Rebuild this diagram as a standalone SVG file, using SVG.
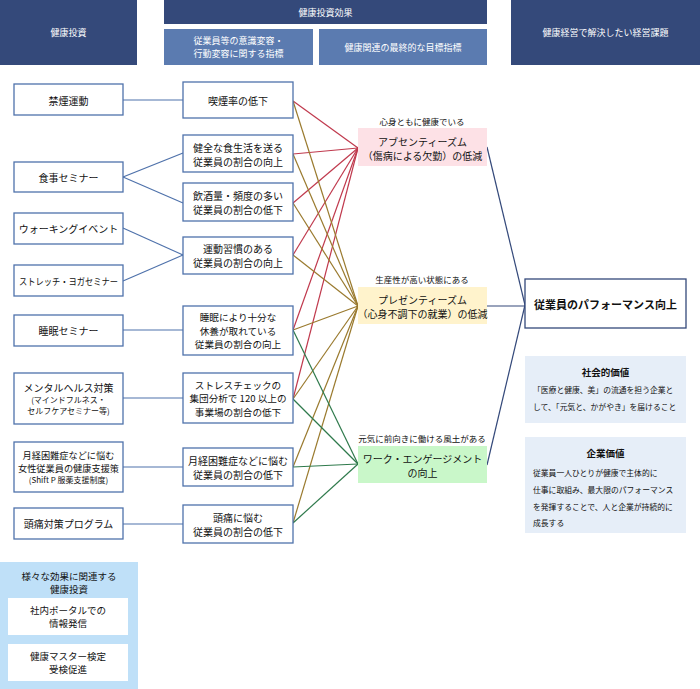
<svg xmlns="http://www.w3.org/2000/svg" width="700" height="689" viewBox="0 0 700 689">
<style>
text{font-family:"Noto Sans CJK JP","Noto Sans",sans-serif;dominant-baseline:central;text-anchor:middle;fill:#111}
.hd{fill:#34497a}
.sh{fill:#5b7bb0}
.ht{fill:#fff;font-size:9px}
.bx{fill:#fff;stroke:#4f72ab;stroke-width:1.3}
.t{font-size:10px}
.t3{font-size:9.6px}
.s{font-size:8px}
.lb{font-size:8.5px}
.c{fill:none;stroke-width:1.2}
.bl{stroke:#4f72ab}
.rd{stroke:#c0394d}
.ol{stroke:#9a7a2e}
.gr{stroke:#2f7a4c}
.nv{stroke:#34497a}
.val{fill:#e6eef8}
.vt{font-size:7.8px;text-anchor:start}
</style>
<rect width="700" height="689" fill="#fff"/>
<g id="header">
<rect class="hd" x="0" y="0" width="137" height="65"/>
<text class="ht" x="68.5" y="32">健康投資</text>
<rect class="hd" x="164" y="0" width="323" height="24"/>
<text class="ht" x="325.5" y="12">健康投資効果</text>
<rect class="sh" x="164" y="29" width="149" height="36"/>
<text class="ht" x="238.5" y="40">従業員等の意識変容・</text>
<text class="ht" x="238.5" y="53">行動変容に関する指標</text>
<rect class="sh" x="319" y="29" width="168" height="36"/>
<text class="ht" x="403" y="47">健康関連の最終的な目標指標</text>
<rect class="hd" x="511" y="0" width="189" height="65"/>
<text class="ht" x="605.5" y="32">健康経営で解決したい経営課題</text>
</g>
<g id="connectors">
<line class="c bl" x1="123" y1="100" x2="183" y2="100"/>
<line class="c bl" x1="123" y1="177" x2="183" y2="153"/>
<line class="c bl" x1="123" y1="177" x2="183" y2="203"/>
<line class="c bl" x1="123" y1="228" x2="183" y2="255"/>
<line class="c bl" x1="123" y1="281" x2="183" y2="255"/>
<line class="c bl" x1="123" y1="330" x2="183" y2="330"/>
<line class="c bl" x1="123" y1="398" x2="183" y2="398"/>
<line class="c bl" x1="123" y1="467" x2="183" y2="467"/>
<line class="c bl" x1="123" y1="524" x2="183" y2="524"/>
<line class="c rd" x1="293" y1="101" x2="358" y2="148"/>
<line class="c rd" x1="293" y1="154" x2="358" y2="148"/>
<line class="c rd" x1="293" y1="203" x2="358" y2="148"/>
<line class="c rd" x1="293" y1="255" x2="358" y2="148"/>
<line class="c rd" x1="293" y1="330" x2="358" y2="148"/>
<line class="c rd" x1="293" y1="399" x2="358" y2="148"/>
<line class="c ol" x1="293" y1="101" x2="358" y2="306"/>
<line class="c ol" x1="293" y1="154" x2="358" y2="306"/>
<line class="c ol" x1="293" y1="203" x2="358" y2="306"/>
<line class="c ol" x1="293" y1="255" x2="358" y2="306"/>
<line class="c ol" x1="293" y1="330" x2="358" y2="306"/>
<line class="c ol" x1="293" y1="399" x2="358" y2="306"/>
<line class="c ol" x1="293" y1="467" x2="358" y2="306"/>
<line class="c ol" x1="293" y1="523" x2="358" y2="306"/>
<line class="c gr" x1="293" y1="330" x2="358" y2="464"/>
<line class="c gr" x1="293" y1="399" x2="358" y2="464"/>
<line class="c gr" x1="293" y1="467" x2="358" y2="464"/>
<line class="c gr" x1="293" y1="523" x2="358" y2="464"/>
<line class="c nv" x1="487" y1="147" x2="525" y2="305"/>
<line class="c nv" x1="487" y1="306" x2="525" y2="306"/>
<line class="c nv" x1="487" y1="465" x2="525" y2="305"/>
</g>
<g id="inv-smoking"><rect class="bx" x="14" y="84" width="109" height="31"/><text class="t" x="68.5" y="100">禁煙運動</text></g>
<g id="inv-diet"><rect class="bx" x="14" y="162" width="109" height="30"/><text class="t" x="68.5" y="177">食事セミナー</text></g>
<g id="inv-walking"><rect class="bx" x="14" y="213" width="109" height="31"/><text class="t" x="68.5" y="228.5">ウォーキングイベント</text></g>
<g id="inv-stretch"><rect class="bx" x="14" y="265" width="109" height="31"/><text class="t" x="68.5" y="280.5" style="font-size:9.5px" textLength="99" lengthAdjust="spacingAndGlyphs">ストレッチ・ヨガセミナー</text></g>
<g id="inv-sleep"><rect class="bx" x="14" y="315" width="109" height="31"/><text class="t" x="68.5" y="330.5">睡眠セミナー</text></g>
<g id="inv-mental"><rect class="bx" x="14" y="373" width="109" height="51"/><text class="t" x="68.5" y="387">メンタルヘルス対策</text><text class="s" x="68.5" y="399.5">(マインドフルネス・</text><text class="s" x="68.5" y="410.5">セルフケアセミナー等)</text></g>
<g id="inv-menstrual"><rect class="bx" x="14" y="442" width="109" height="50"/><text class="s" x="68.5" y="455" style="font-size:9.2px">月経困難症などに悩む</text><text class="s" x="68.5" y="467.5" style="font-size:9.2px">女性従業員の健康支援策</text><text class="s" x="68.5" y="479.5">(Shift P 服薬支援制度)</text></g>
<g id="inv-headache"><rect class="bx" x="14" y="508" width="109" height="31"/><text class="t" x="68.5" y="523.5">頭痛対策プログラム</text></g>
<g id="ind-smoking"><rect class="bx" x="183" y="82" width="110" height="36"/><text class="t" x="238" y="100">喫煙率の低下</text></g>
<g id="ind-diet"><rect class="bx" x="183" y="135" width="110" height="37"/><text class="t" x="238" y="147">健全な食生活を送る</text><text class="t" x="238" y="161">従業員の割合の向上</text></g>
<g id="ind-alcohol"><rect class="bx" x="183" y="183" width="110" height="38"/><text class="t" x="238" y="195">飲酒量・頻度の多い</text><text class="t" x="238" y="209">従業員の割合の低下</text></g>
<g id="ind-exercise"><rect class="bx" x="183" y="237" width="110" height="37"/><text class="t" x="238" y="248.5">運動習慣のある</text><text class="t" x="238" y="262.5">従業員の割合の向上</text></g>
<g id="ind-sleep"><rect class="bx" x="183" y="306" width="110" height="49"/><text class="t3" x="238" y="317">睡眠により十分な</text><text class="t3" x="238" y="330.5">休養が取れている</text><text class="t3" x="238" y="344">従業員の割合の向上</text></g>
<g id="ind-stress"><rect class="bx" x="183" y="373" width="110" height="50"/><text class="t3" x="238" y="384.5">ストレスチェックの</text><text class="t3" x="238" y="398">集団分析で 120 以上の</text><text class="t3" x="238" y="411.5">事業場の割合の低下</text></g>
<g id="ind-menstrual"><rect class="bx" x="183" y="448" width="110" height="38"/><text class="t" x="238" y="460">月経困難症などに悩む</text><text class="t" x="238" y="474">従業員の割合の低下</text></g>
<g id="ind-headache"><rect class="bx" x="183" y="505" width="110" height="38"/><text class="t" x="238" y="517">頭痛に悩む</text><text class="t" x="238" y="531">従業員の割合の低下</text></g>
<g id="goal-absenteeism"><text class="lb" x="422" y="121">心身ともに健康でいる</text><rect x="358" y="128" width="129" height="38" fill="#fde1e6"/><text class="t" x="422.5" y="141">アブセンティーズム</text><text class="t" x="422.5" y="155">（傷病による欠勤）の低減</text></g>
<g id="goal-presenteeism"><text class="lb" x="422" y="279">生産性が高い状態にある</text><rect x="358" y="287" width="129" height="37" fill="#fff3cc"/><text class="t" x="422.5" y="299.5">プレゼンティーズム</text><text class="t" x="422.5" y="313">（心身不調下の就業）の低減</text></g>
<g id="goal-engagement"><text class="lb" x="422" y="438">元気に前向きに働ける風土がある</text><rect x="358" y="446" width="129" height="37" fill="#c9f7c9"/><text class="t" x="422.5" y="458">ワーク・エンゲージメント</text><text class="t" x="422.5" y="472">の向上</text></g>
<g id="performance"><rect x="525" y="279" width="161" height="49" fill="#fff" stroke="#34497a" stroke-width="1.3"/><text x="605.5" y="303.5" style="font-size:11px;font-weight:bold">従業員のパフォーマンス向上</text></g>
<g id="social-value"><rect class="val" x="525" y="356" width="161" height="67"/><text x="605.5" y="372" style="font-size:9.5px;font-weight:bold">社会的価値</text><text class="vt" x="533" y="389">「医療と健康、美」の流通を担う企業と</text><text class="vt" x="533" y="406">して、「元気と、かがやき」を届けること</text></g>
<g id="corporate-value"><rect class="val" x="525" y="437" width="161" height="96"/><text x="605.5" y="453" style="font-size:9.5px;font-weight:bold">企業価値</text><text class="vt" x="533" y="472">従業員一人ひとりが健康で主体的に</text><text class="vt" x="533" y="489">仕事に取組み、最大限のパフォーマンス</text><text class="vt" x="533" y="506">を発揮することで、人と企業が持続的に</text><text class="vt" x="533" y="522">成長する</text></g>
<g id="various"><rect x="0" y="562" width="138" height="127" fill="#bfe0f8"/><text class="t" x="69" y="576" style="font-size:9.5px">様々な効果に関連する</text><text class="t" x="69" y="589" style="font-size:9.5px">健康投資</text>
<rect x="8" y="598" width="120" height="37" fill="#fff"/><text class="t" x="68" y="610" style="font-size:9.5px">社内ポータルでの</text><text class="t" x="68" y="623" style="font-size:9.5px">情報発信</text>
<rect x="8" y="644" width="120" height="37" fill="#fff"/><text class="t" x="68" y="656" style="font-size:9.5px">健康マスター検定</text><text class="t" x="68" y="669" style="font-size:9.5px">受検促進</text></g>
</svg>
